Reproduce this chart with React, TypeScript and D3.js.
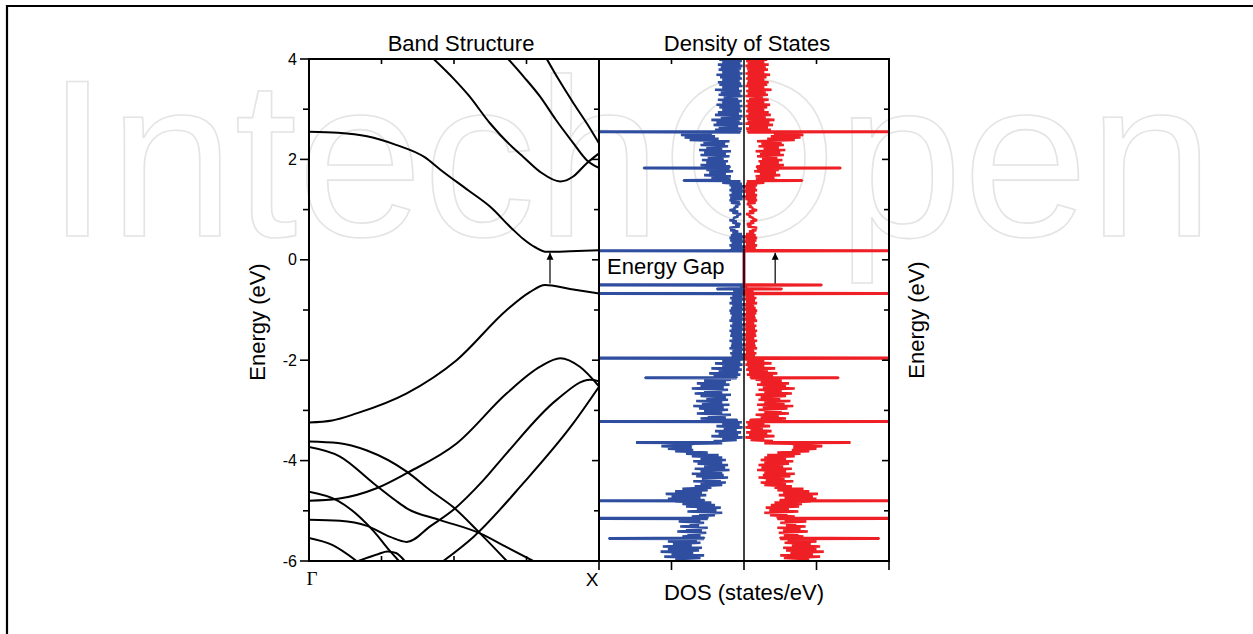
import React, { useEffect, useRef } from "react";
import * as d3 from "d3";

// ---------- axis / tick data ----------
const energyMajor = [-6, -4, -2, 0, 2, 4];
const energyMinor = [-5, -3, -1, 1, 3];
const kInnerTicks = [0.25, 0.5, 0.75];
const dosTopTicks = [-1, 1];
const dosBottomTicks = [-2, -1, 0, 1, 2];

// ---------- band structure (k from Γ=0 to X=1, energy in eV) ----------
const cb1 = [[0, 2.55], [0.1, 2.53], [0.2, 2.46], [0.3, 2.29], [0.4, 2.04], [0.452, 1.8], [0.55, 1.38], [0.624, 1.06], [0.7, 0.62], [0.738, 0.42], [0.78, 0.25], [0.82, 0.16], [0.9, 0.17], [1, 0.19]];
const cb2 = [[0.43, 4.0], [0.5, 3.6], [0.55, 3.28], [0.624, 2.72], [0.7, 2.25], [0.739, 2.05], [0.8, 1.74], [0.866, 1.56], [0.911, 1.66], [0.957, 1.92], [1, 2.12]];
const cb3 = [[0.687, 4.0], [0.74, 3.65], [0.797, 3.25], [0.85, 2.8], [0.912, 2.32], [0.957, 1.99], [1, 1.83]];
const cb4 = [[0.82, 4.0], [0.86, 3.6], [0.912, 3.12], [0.96, 2.7], [1, 2.32]];
const vb1 = [[0, -3.24], [0.08, -3.2], [0.164, -3.06], [0.337, -2.66], [0.509, -2.0], [0.682, -1.0], [0.76, -0.65], [0.814, -0.5], [0.9, -0.58], [1, -0.67]];
const vb2 = [[0, -4.8], [0.1, -4.76], [0.233, -4.55], [0.337, -4.25], [0.509, -3.66], [0.682, -2.66], [0.797, -2.13], [0.866, -1.96], [0.934, -2.13], [1, -2.52]];
const vb3 = [[0, -3.62], [0.1, -3.65], [0.2, -3.8], [0.337, -4.22], [0.42, -4.6], [0.498, -4.93], [0.59, -5.45], [0.682, -6.0]];
const vb4 = [[0, -3.73], [0.107, -3.92], [0.222, -4.45], [0.3, -4.8], [0.337, -4.95], [0.45, -5.18], [0.59, -5.45], [0.68, -5.72], [0.773, -6.0]];
const vb5 = [[0, -4.62], [0.1, -4.8], [0.222, -5.4], [0.279, -5.8], [0.31, -6.0]];
const vb6 = [[0, -5.18], [0.107, -5.2], [0.2, -5.3], [0.28, -5.52], [0.337, -5.62], [0.42, -5.3], [0.498, -4.98], [0.6, -4.4], [0.682, -3.85], [0.854, -2.79], [0.969, -2.39], [1, -2.42]];
const vb7 = [[0, -5.54], [0.08, -5.68], [0.164, -6.0]];
const vb8 = [[0.17, -6.0], [0.24, -5.86], [0.27, -5.81], [0.3, -5.84], [0.33, -6.0]];
const vb9 = [[0.463, -6.0], [0.567, -5.52], [0.739, -4.45], [0.911, -3.26], [1, -2.53]];
const bands = [cb1, cb2, cb3, cb4, vb1, vb2, vb3, vb4, vb5, vb6, vb7, vb8, vb9];

// ---------- density of states: outer / inner excursion per 0.05 eV bin, from -5.95 eV ----------
const dosStart = -5.95;
const dosStep = 0.05;
const dosUpHi = [
  0.95, 1.10, 1.00, 1.15, 1.05, 1.12, 0.98, 1.05, 0.95, 0.85, 0.78, 0.92, 0.80, 0.88, 0.75, 0.90, 0.80, 0.72, 0.62, 0.78,
  0.65, 0.80, 0.85, 0.95, 1.05, 1.00, 1.08, 0.95, 0.85, 0.68, 0.60, 0.70, 0.58, 0.66, 0.72, 0.60, 0.68, 0.55, 0.64, 0.70,
  0.60, 0.72, 0.80, 0.95, 1.05, 1.14, 0.70, 0.42, 0.30, 0.45, 0.35, 0.40, 0.28, 0.38, 0.30, 0.45, 0.60, 0.50, 0.65, 0.55,
  0.62, 0.70, 0.58, 0.66, 0.52, 0.60, 0.68, 0.55, 0.72, 0.60, 0.65, 0.55, 0.50, 0.42, 0.48, 0.35, 0.45, 0.30, 0.40, 0.30,
  0.20, 0.17, 0.19, 0.16, 0.20, 0.18, 0.17, 0.20, 0.16, 0.19, 0.18, 0.20, 0.17, 0.19, 0.16, 0.20, 0.18, 0.17, 0.19, 0.20,
  0.18, 0.16, 0.20, 0.17, 0.19, 0.16, 0.10, 0.15, 0.05, 0, 0, 0, 0, 0, 0, 0, 0, 0, 0, 0,
  0, 0, 0, 0.20, 0.18, 0.20, 0.17, 0.19, 0.20, 0.18, 0.16, 0.19, 0.20, 0.12, 0.16, 0.20, 0.14, 0.10, 0.16, 0.20,
  0.14, 0.12, 0.18, 0.20, 0.19, 0.20, 0.17, 0.20, 0.18, 0.20, 0.30, 0.50, 0.45, 0.55, 0.48, 0.52, 0.55, 0.60, 0.52, 0.58,
  0.50, 0.60, 0.55, 0.62, 0.52, 0.60, 0.56, 0.75, 0.82, 0.87, 0.45, 0.40, 0.35, 0.42, 0.38, 0.45, 0.32, 0.40, 0.36, 0.30,
  0.34, 0.38, 0.30, 0.36, 0.28, 0.35, 0.32, 0.40, 0.30, 0.34, 0.36, 0.30, 0.33, 0.38, 0.30, 0.35, 0.32, 0.36, 0.30, 0.34,
];
const dosUpLo = [
  0.60, 0.55, 0.70, 0.62, 0.58, 0.72, 0.60, 0.65, 0.55, 0.60, 0.52, 0.58, 0.50, 0.62, 0.55, 0.60, 0.50, 0.40, 0.30, 0.38,
  0.32, 0.40, 0.45, 0.55, 0.60, 0.52, 0.58, 0.50, 0.45, 0.30, 0.25, 0.32, 0.22, 0.28, 0.30, 0.20, 0.26, 0.22, 0.30, 0.25,
  0.30, 0.35, 0.50, 0.70, 0.72, 0.75, 0.30, 0.10, 0.02, 0.08, 0.04, 0.10, 0.02, 0.06, 0.03, 0.10, 0.25, 0.18, 0.30, 0.22,
  0.28, 0.20, 0.30, 0.22, 0.25, 0.18, 0.30, 0.22, 0.28, 0.20, 0.25, 0.18, 0.10, 0.05, 0.08, 0.03, 0.06, 0.02, 0.05, 0.02,
  0.02, 0, 0.03, 0.01, 0.02, 0, 0.03, 0.01, 0.02, 0, 0.03, 0.01, 0.02, 0, 0.03, 0.01, 0.02, 0, 0.03, 0.01,
  0.02, 0, 0.03, 0.01, 0.02, 0, 0, 0.02, 0, 0, 0, 0, 0, 0, 0, 0, 0, 0, 0, 0,
  0, 0, 0, 0.02, 0, 0.03, 0.01, 0.02, 0, 0.03, 0.08, 0.12, 0.06, 0.05, 0.10, 0.14, 0.08, 0.04, 0.08, 0.12,
  0.08, 0.05, 0.06, 0.02, 0, 0.03, 0.01, 0.02, 0, 0.03, 0.05, 0.20, 0.18, 0.25, 0.15, 0.22, 0.20, 0.25, 0.22, 0.28,
  0.20, 0.25, 0.18, 0.30, 0.22, 0.26, 0.20, 0.35, 0.40, 0.45, 0.05, 0.03, 0.08, 0.02, 0.06, 0.04, 0.02, 0.07, 0.03, 0.05,
  0.02, 0.06, 0.03, 0.08, 0.02, 0.05, 0.03, 0.07, 0.02, 0.04, 0.06, 0.03, 0.05, 0.02, 0.06, 0.04, 0.02, 0.05, 0.03, 0.06,
];
const dosDownHi = [
  0.90, 1.05, 0.95, 1.10, 1.00, 1.05, 0.92, 1.00, 0.90, 0.82, 0.75, 0.88, 0.78, 0.85, 0.72, 0.86, 0.78, 0.70, 0.60, 0.75,
  0.62, 0.76, 0.80, 0.92, 1.00, 0.95, 1.02, 0.90, 0.82, 0.66, 0.58, 0.68, 0.56, 0.64, 0.70, 0.58, 0.66, 0.54, 0.62, 0.68,
  0.58, 0.70, 0.78, 0.90, 1.00, 1.08, 0.66, 0.40, 0.28, 0.42, 0.32, 0.38, 0.26, 0.36, 0.28, 0.42, 0.58, 0.48, 0.62, 0.52,
  0.60, 0.68, 0.56, 0.64, 0.50, 0.58, 0.66, 0.52, 0.70, 0.58, 0.62, 0.52, 0.48, 0.40, 0.46, 0.33, 0.43, 0.28, 0.38, 0.28,
  0.18, 0.15, 0.17, 0.14, 0.18, 0.16, 0.15, 0.18, 0.14, 0.17, 0.16, 0.18, 0.15, 0.17, 0.14, 0.18, 0.16, 0.15, 0.17, 0.18,
  0.16, 0.14, 0.18, 0.15, 0.17, 0.14, 0.09, 0.13, 0.04, 0, 0, 0, 0, 0, 0, 0, 0, 0, 0, 0,
  0, 0, 0, 0.18, 0.16, 0.18, 0.15, 0.17, 0.18, 0.16, 0.14, 0.17, 0.18, 0.10, 0.14, 0.18, 0.12, 0.09, 0.14, 0.18,
  0.12, 0.10, 0.16, 0.18, 0.17, 0.18, 0.15, 0.18, 0.16, 0.18, 0.28, 0.46, 0.42, 0.50, 0.44, 0.48, 0.50, 0.55, 0.48, 0.53,
  0.46, 0.55, 0.50, 0.57, 0.48, 0.55, 0.52, 0.70, 0.78, 0.82, 0.42, 0.37, 0.33, 0.40, 0.35, 0.42, 0.30, 0.37, 0.34, 0.28,
  0.32, 0.36, 0.28, 0.34, 0.26, 0.33, 0.30, 0.38, 0.28, 0.32, 0.34, 0.28, 0.31, 0.36, 0.28, 0.33, 0.30, 0.34, 0.28, 0.32,
];
const dosDownLo = [
  0.55, 0.50, 0.64, 0.58, 0.54, 0.66, 0.56, 0.60, 0.50, 0.55, 0.48, 0.54, 0.46, 0.58, 0.50, 0.56, 0.46, 0.36, 0.28, 0.35,
  0.30, 0.37, 0.42, 0.50, 0.56, 0.48, 0.54, 0.46, 0.42, 0.28, 0.23, 0.30, 0.20, 0.26, 0.28, 0.18, 0.24, 0.20, 0.28, 0.23,
  0.28, 0.32, 0.46, 0.66, 0.68, 0.70, 0.28, 0.09, 0.02, 0.07, 0.03, 0.09, 0.02, 0.05, 0.03, 0.09, 0.23, 0.16, 0.28, 0.20,
  0.26, 0.18, 0.28, 0.20, 0.23, 0.16, 0.28, 0.20, 0.26, 0.18, 0.23, 0.16, 0.09, 0.04, 0.07, 0.03, 0.05, 0.02, 0.04, 0.02,
  0.02, 0, 0.03, 0.01, 0.02, 0, 0.03, 0.01, 0.02, 0, 0.03, 0.01, 0.02, 0, 0.03, 0.01, 0.02, 0, 0.03, 0.01,
  0.02, 0, 0.03, 0.01, 0.02, 0, 0, 0.02, 0, 0, 0, 0, 0, 0, 0, 0, 0, 0, 0, 0,
  0, 0, 0, 0.02, 0, 0.03, 0.01, 0.02, 0, 0.03, 0.07, 0.11, 0.05, 0.04, 0.09, 0.13, 0.07, 0.03, 0.07, 0.11,
  0.07, 0.04, 0.05, 0.02, 0, 0.03, 0.01, 0.02, 0, 0.03, 0.04, 0.18, 0.16, 0.22, 0.14, 0.20, 0.18, 0.22, 0.20, 0.25,
  0.18, 0.22, 0.16, 0.27, 0.20, 0.24, 0.18, 0.32, 0.37, 0.42, 0.05, 0.03, 0.07, 0.02, 0.05, 0.04, 0.02, 0.06, 0.03, 0.05,
  0.02, 0.05, 0.03, 0.07, 0.02, 0.05, 0.03, 0.06, 0.02, 0.04, 0.05, 0.03, 0.05, 0.02, 0.05, 0.04, 0.02, 0.05, 0.03, 0.05,
];
// sharp peaks (energy, spin-up height, spin-down height)
const spikeE = [-5.55, -5.15, -4.80, -3.64, -3.22, -2.35, -1.96, -0.67, -0.58, -0.50, 0.18, 1.58, 1.83, 2.55];
const spikeUp = [1.86, 2.6, 2.6, 1.49, 2.6, 1.36, 2.6, 2.6, 0.37, 2.6, 2.6, 0.83, 1.38, 2.6];
const spikeDown = [1.86, 2.6, 2.6, 1.47, 2.6, 1.30, 2.6, 2.6, 0.52, 1.07, 2.6, 0.80, 1.33, 2.6];

// gap arrows
const gapFromE = -0.47;
const gapToE = 0.14;
const gapArrowK = 0.831;
const gapArrowDos = 0.43;

const W = 1253;
const H = 634;
const FONT = "'Liberation Sans', Arial, Helvetica, sans-serif";
const BLUE = "#2f4ea0";
const RED = "#ee1f25";

type P = { e: number; v: number };

function buildSeries(hi: number[], lo: number[], spikes: number[]): P[] {
  const pts: P[] = [];
  hi.forEach((h, i) => {
    const e = dosStart + dosStep * i;
    pts.push({ e: e - dosStep / 4, v: h });
    pts.push({ e: e + dosStep / 4, v: lo[i] });
  });
  spikeE.forEach((e, j) => {
    const i = Math.max(0, Math.min(lo.length - 1, Math.round((e - dosStart) / dosStep)));
    pts.push({ e: e - 0.011, v: lo[i] });
    pts.push({ e: e - 0.004, v: spikes[j] });
    pts.push({ e: e + 0.004, v: spikes[j] });
    pts.push({ e: e + 0.011, v: lo[i] });
  });
  pts.sort((a, b) => a.e - b.e);
  return pts;
}

export default function App() {
  const ref = useRef<SVGSVGElement>(null);
  useEffect(() => {
    const svg = d3.select(ref.current);
    svg.selectAll("*").remove();

    const bandL = 309, bandR = 599, dosR = 889, top = 59, bottom = 561;
    const yE = d3.scaleLinear().domain([-6, 4]).range([bottom, top]);
    const xK = d3.scaleLinear().domain([0, 1]).range([bandL, bandR]);
    const xD = d3.scaleLinear().domain([-2, 2]).range([bandR, dosR]);

    // watermark
    svg.append("text")
      .attr("x", 46).attr("y", 236)
      .attr("font-family", FONT).attr("font-size", 224)
      .attr("fill", "none").attr("stroke", "#e4e4e4").attr("stroke-width", 1.6)
      .attr("textLength", 1168).attr("lengthAdjust", "spacingAndGlyphs")
      .text("IntechOpen");

    // outer frame
    svg.append("path").attr("d", `M7,${H} V6 H${W}`).attr("fill", "none")
      .attr("stroke", "#000").attr("stroke-width", 2.2);

    const defs = svg.append("defs");
    defs.append("clipPath").attr("id", "clipBand").append("rect")
      .attr("x", bandL).attr("y", top).attr("width", bandR - bandL).attr("height", bottom - top);
    defs.append("clipPath").attr("id", "clipDos").append("rect")
      .attr("x", bandR).attr("y", top).attr("width", dosR - bandR).attr("height", bottom - top);
    defs.append("marker").attr("id", "ah").attr("viewBox", "0 0 10 10")
      .attr("refX", 10).attr("refY", 5).attr("markerWidth", 7).attr("markerHeight", 12)
      .attr("markerUnits", "userSpaceOnUse").attr("orient", "auto")
      .append("path").attr("d", "M0,0 L10,5 L0,10 Z").attr("fill", "#000");

    // band lines
    const bandLine = d3.line<number[]>().x((d) => xK(d[0])).y((d) => yE(d[1])).curve(d3.curveMonotoneX);
    const gb = svg.append("g").attr("clip-path", "url(#clipBand)");
    bands.forEach((b) => {
      gb.append("path").attr("d", bandLine(b) as string).attr("fill", "none")
        .attr("stroke", "#000").attr("stroke-width", 2);
    });

    // DOS lines
    const gd = svg.append("g").attr("clip-path", "url(#clipDos)");
    const up = buildSeries(dosUpHi, dosUpLo, spikeUp);
    const dn = buildSeries(dosDownHi, dosDownLo, spikeDown);
    const lUp = d3.line<P>().x((p) => xD(-p.v)).y((p) => yE(p.e));
    const lDn = d3.line<P>().x((p) => xD(p.v)).y((p) => yE(p.e));
    gd.append("path").attr("d", lUp(up) as string).attr("fill", "none").attr("stroke", BLUE)
      .attr("stroke-width", 2.6).attr("stroke-linejoin", "bevel");
    gd.append("path").attr("d", lDn(dn) as string).attr("fill", "none").attr("stroke", RED)
      .attr("stroke-width", 2.6).attr("stroke-linejoin", "bevel");
    // zero line
    svg.append("line").attr("x1", xD(0)).attr("x2", xD(0)).attr("y1", top).attr("y2", bottom)
      .attr("stroke", "#000").attr("stroke-width", 1.5);

    // frames
    svg.append("rect").attr("x", bandL).attr("y", top).attr("width", bandR - bandL).attr("height", bottom - top)
      .attr("fill", "none").attr("stroke", "#000").attr("stroke-width", 2);
    svg.append("rect").attr("x", bandR).attr("y", top).attr("width", dosR - bandR).attr("height", bottom - top)
      .attr("fill", "none").attr("stroke", "#000").attr("stroke-width", 2);

    const tick = (x1: number, y1: number, x2: number, y2: number) =>
      svg.append("line").attr("x1", x1).attr("y1", y1).attr("x2", x2).attr("y2", y2)
        .attr("stroke", "#000").attr("stroke-width", 1.6);

    // left energy axis
    energyMajor.forEach((e) => {
      tick(bandL - 9, yE(e), bandL, yE(e));
      svg.append("text").attr("x", bandL - 12).attr("y", yE(e)).attr("dy", "0.35em")
        .attr("text-anchor", "end").attr("font-family", FONT).attr("font-size", 16).text(String(e));
    });
    energyMinor.forEach((e) => tick(bandL - 6, yE(e), bandL, yE(e)));
    // inner ticks on band right / dos right
    energyMajor.forEach((e) => { tick(bandR - 7, yE(e), bandR, yE(e)); tick(dosR - 7, yE(e), dosR, yE(e)); });
    energyMinor.forEach((e) => { tick(bandR - 5, yE(e), bandR, yE(e)); tick(dosR - 5, yE(e), dosR, yE(e)); });
    // band top/bottom inner ticks
    kInnerTicks.forEach((k) => { tick(xK(k), top, xK(k), top + 5); tick(xK(k), bottom, xK(k), bottom - 5); });
    // dos ticks
    dosTopTicks.forEach((d) => tick(xD(d), top, xD(d), top + 5));
    dosBottomTicks.forEach((d) => tick(xD(d), bottom, xD(d), bottom + 9));

    // k labels
    svg.append("text").attr("x", xK(0) + 3).attr("y", 585).attr("text-anchor", "middle")
      .attr("font-family", "'Liberation Serif', 'Times New Roman', serif").attr("font-size", 19).text("Γ");
    svg.append("text").attr("x", xK(1) - 7).attr("y", 586).attr("text-anchor", "middle")
      .attr("font-family", FONT).attr("font-size", 19).text("X");

    // titles
    svg.append("text").attr("x", 461).attr("y", 51).attr("text-anchor", "middle")
      .attr("font-family", FONT).attr("font-size", 22).text("Band Structure");
    svg.append("text").attr("x", 747).attr("y", 51).attr("text-anchor", "middle")
      .attr("font-family", FONT).attr("font-size", 22).text("Density of States");
    svg.append("text").attr("x", 744).attr("y", 600).attr("text-anchor", "middle")
      .attr("font-family", FONT).attr("font-size", 22).text("DOS (states/eV)");
    // y labels
    svg.append("text").attr("transform", "translate(265,322) rotate(-90)").attr("text-anchor", "middle")
      .attr("font-family", FONT).attr("font-size", 22).text("Energy (eV)");
    svg.append("text").attr("transform", "translate(924,320) rotate(-90)").attr("text-anchor", "middle")
      .attr("font-family", FONT).attr("font-size", 22).text("Energy (eV)");

    // energy gap label
    svg.append("text").attr("x", 607).attr("y", 274).attr("font-family", FONT).attr("font-size", 22).text("Energy Gap");

    // arrows
    svg.append("line").attr("x1", xK(gapArrowK)).attr("x2", xK(gapArrowK))
      .attr("y1", yE(gapFromE)).attr("y2", yE(gapToE)).attr("stroke", "#000").attr("stroke-width", 1.2)
      .attr("marker-end", "url(#ah)");
    svg.append("line").attr("x1", xD(gapArrowDos)).attr("x2", xD(gapArrowDos))
      .attr("y1", yE(gapFromE)).attr("y2", yE(gapToE)).attr("stroke", "#000").attr("stroke-width", 1.2)
      .attr("marker-end", "url(#ah)");
  }, []);

  return (
    <svg ref={ref} width={W} height={H}
      style={{ position: "absolute", left: 0, top: 0, background: "#fff", display: "block" }} />
  );
}
